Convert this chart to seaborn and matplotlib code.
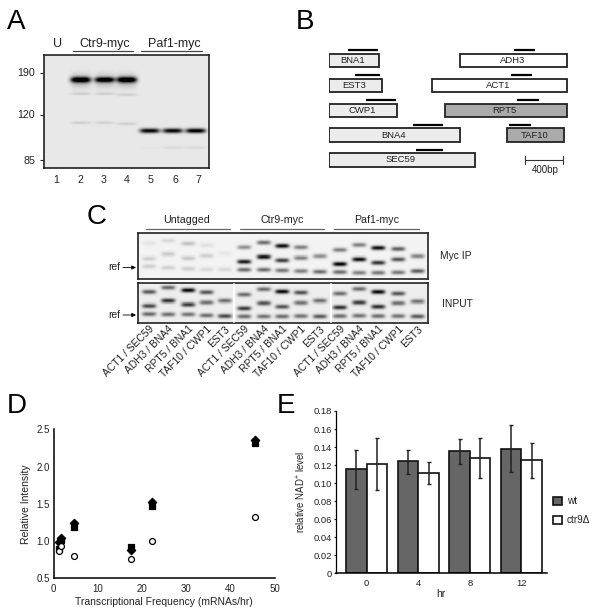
import numpy as np
import pandas as pd
import matplotlib
matplotlib.use("Agg")
import matplotlib.pyplot as plt
import seaborn as sns

W, H = 600, 610

# panel A gel, positions in px inside the gel frame
a_lanes = [37, 61, 83, 106, 129, 152]
a_main_pos = [25, 25, 25, 76, 76, 76]
a_main_int = [1.0, 0.95, 1.0, 0.9, 0.9, 0.95]
a_main_sigma = [2.8, 2.6, 2.8, 2.4, 2.4, 2.4]
a_halo_int = [0.2, 0.18, 0.2, 0.0, 0.0, 0.0]
a_faint_pos = [39, 39, 40, 93, 93, 93]
a_faint_int = [0.1, 0.1, 0.1, 0.015, 0.06, 0.06]
a_faint2_pos = [68, 68, 69]
a_faint2_int = [0.1, 0.09, 0.1]
a_marker_kda = [190, 120, 85]
a_marker_pos = [18, 60, 105]
a_lane_numbers = [1, 2, 3, 4, 5, 6, 7]
a_number_x = [56, 80, 104, 127, 151, 175, 198]

# panel B, gene extents and probes in bp
genes = ["BNA1", "EST3", "CWP1", "BNA4", "SEC59", "ADH3", "ACT1", "RPT5", "TAF10"]
gene_row = [0, 1, 2, 3, 4, 0, 1, 2, 3]
gene_start = [0, 0, 0, 0, 0, 1362, 1072, 1200, 1845]
gene_end = [521, 555, 703, 1355, 1517, 2462, 2462, 2462, 2431]
probe_start = [197, 272, 390, 872, 903, 1914, 1883, 1945, 1862]
probe_end = [507, 528, 697, 1179, 1179, 2134, 2103, 2172, 2096]
gene_fill = ["#ececec"] * 5 + ["white", "white", "#aaaaaa", "#aaaaaa"]

# panel C gels, bands per lane in 1/3 px
c_lanes = [33, 90, 150, 205, 260, 318, 377, 432, 488, 545, 605, 663, 720, 780, 838]
c_labels = ["ACT1 / SEC59", "ADH3 / BNA4", "RPT5 / BNA1", "TAF10 / CWP1", "EST3"] * 3
ip_pos = [[30, 75, 98], [22, 62, 102], [31, 74, 105], [36, 67, 107], [60, 107],
          [42, 84, 108], [28, 70, 108], [38, 80, 110], [42, 73, 112], [68, 114],
          [50, 91, 115], [35, 77, 117], [44, 87, 117], [47, 77, 116], [68, 112]]
ip_int = [[.06, .14, .14], [.1, .16, .14], [.2, .17, .15], [.08, .14, .1], [.05, .1],
          [.38, .85, .52], [.52, .9, .52], [.9, .7, .48], [.45, .45, .45], [.38, .52],
          [.45, .95, .52], [.45, .9, .45], [.9, .75, .48], [.58, .62, .48], [.42, .58]]
input_pos = [[26, 67, 91], [13, 52, 92], [21, 63, 92], [27, 57, 95], [52, 97],
             [34, 74, 98], [18, 59, 98], [25, 69, 98], [28, 58, 97], [52, 98],
             [31, 71, 97], [17, 57, 96], [26, 69, 97], [31, 59, 97], [54, 98]]
input_int = [[.58, .65, .52], [.52, .75, .5], [.9, .7, .48], [.6, .5, .5], [.5, .65],
             [.5, .7, .5], [.5, .6, .48], [.9, .6, .5], [.62, .48, .48], [.5, .58],
             [.5, .75, .5], [.5, .7, .48], [.9, .75, .5], [.6, .5, .48], [.48, .58]]

# panel D
freq = [1.2, 1.6, 4.7, 17.6, 22.3, 45.6]
intensity_input = [0.86, 0.94, 0.80, 0.76, 1.00, 1.32]
intensity_paf1 = [0.90, 1.02, 1.19, 0.92, 1.47, 2.32]
intensity_ctr9 = [0.99, 1.04, 1.24, 0.88, 1.53, 2.35]

# panel E
hours = ["0", "4", "8", "12"]
wt_level = [0.1155, 0.1245, 0.1355, 0.138]
ctr9_level = [0.1215, 0.111, 0.128, 0.1255]
wt_low = [0.094, 0.110, 0.121, 0.112]
wt_high = [0.137, 0.137, 0.149, 0.164]
ctr9_low = [0.092, 0.0995, 0.106, 0.106]
ctr9_high = [0.150, 0.123, 0.150, 0.145]

sns.set_theme(style="white")
plt.rcParams['font.family'] = ['Liberation Sans', 'DejaVu Sans']
plt.rcParams['mathtext.default'] = 'regular'
plt.rcParams['text.color'] = '#222222'
plt.rcParams['xtick.color'] = '#222222'
plt.rcParams['ytick.color'] = '#222222'
plt.rcParams['axes.labelcolor'] = '#222222'

fig = plt.figure(figsize=(W / 100, H / 100), dpi=100, facecolor='white')


def px_axes(left, top, right, bottom, **kw):
    return fig.add_axes([left / W, 1 - bottom / H, (right - left) / W, (bottom - top) / H], **kw)


def draw_gel(ax, width, height, bands, bg, half_w, res=2):
    # bands are (x, y, strength, sigma) in px from the top left of the frame
    xs = (np.arange(int(width * res)) + 0.5) / res
    ys = (np.arange(int(height * res)) + 0.5) / res
    img = np.full((len(ys), len(xs)), bg, dtype=float)
    for x, y, strength, sigma in bands:
        across = np.exp(-np.abs((xs - x) / half_w) ** 4)
        down = np.exp(-((ys - y) / sigma) ** 2)
        img -= strength * np.outer(down, across)
    sns.heatmap(np.clip(img, 0, 1), ax=ax, cmap='gray', vmin=0, vmax=1, cbar=False,
                xticklabels=False, yticklabels=False, rasterized=True)
    for s in ax.spines.values():
        s.set_visible(True)
        s.set_color('#222222')
        s.set_linewidth(1.2)
    return res


# overlay for letters, headers and arrows, in image px
ov = px_axes(0, 0, W, H, zorder=10)
ov.set_xlim(0, W)
ov.set_ylim(H, 0)
ov.axis('off')
ov.patch.set_alpha(0)

for letter, x, y in [("A", 7, 29), ("B", 296, 29), ("C", 87, 224), ("D", 7, 413), ("E", 277, 413)]:
    ov.text(x, y, letter, fontsize=20, color='black', ha='left', va='baseline')

# --- A ---
ax_a = px_axes(43.5, 54.5, 209, 168)
a_bands = []
for i, x in enumerate(a_lanes):
    a_bands.append((x, a_main_pos[i], a_main_int[i], a_main_sigma[i]))
    a_bands.append((x, a_main_pos[i] + 1, a_halo_int[i], 7))
    a_bands.append((x, a_faint_pos[i], a_faint_int[i], 1.5))
for i, p in enumerate(a_faint2_pos):
    a_bands.append((a_lanes[i], p, a_faint2_int[i], 1.6))
res = draw_gel(ax_a, 165.5, 113.5, a_bands, 0.91, 10)
ax_a.set_yticks([p * res for p in a_marker_pos])
ax_a.set_yticklabels([str(k) for k in a_marker_kda], fontsize=7.7)
ax_a.tick_params(axis='y', left=True, length=3, width=0.8, pad=3)
for n, x in zip(a_lane_numbers, a_number_x):
    ov.text(x, 180, str(n), fontsize=7.7, ha='center', va='center')
ov.text(58, 44, "U", fontsize=9, ha='center', va='center')
ov.text(105, 44, "Ctr9-myc", fontsize=9, ha='center', va='center')
ov.text(174, 44, "Paf1-myc", fontsize=9, ha='center', va='center')
ov.plot([73, 133], [51, 51], color='#444444', lw=0.9)
ov.plot([141, 202], [51, 51], color='#444444', lw=0.9)

# --- B ---
ax_b = px_axes(328.7, 40, 568.7, 185)
ax_b.set_xlim(0, 2483)
ax_b.set_ylim(5.01, -0.835)
ax_b.axis('off')
ax_b.barh(gene_row, np.subtract(gene_end, gene_start), left=gene_start, height=0.54,
          color=gene_fill, edgecolor='#222222', linewidth=1.3)
for g, r, s, e, ps, pe in zip(genes, gene_row, gene_start, gene_end, probe_start, probe_end):
    ax_b.text((s + e) / 2 - 10, r, g, fontsize=6.8, ha='center', va='center')
    ax_b.plot([ps, pe], [r - 0.42, r - 0.42], color='black', lw=1.6, solid_capstyle='butt')
ax_b.plot([2028, 2428], [4, 4], color='#333333', lw=0.8)
ax_b.plot([2028, 2028], [3.84, 4.16], color='#333333', lw=0.8)
ax_b.plot([2428, 2428], [3.84, 4.16], color='#333333', lw=0.8)
ax_b.text(2240, 4.41, "400bp", fontsize=7, ha='center', va='center')

# --- C ---
ax_ip = px_axes(138.3, 233.3, 428.3, 278.7)
ax_in = px_axes(138.3, 283.3, 428.3, 322.7)
ip_bands = []
in_bands = []
for i, x in enumerate(c_lanes):
    ip_bands += [(x / 3, p / 3, s, 2.2) for p, s in zip(ip_pos[i], ip_int[i])]
    in_bands += [(x / 3, p / 3, s, 2.2) for p, s in zip(input_pos[i], input_int[i])]
draw_gel(ax_ip, 290, 45.4, ip_bands, 0.95, 7)
draw_gel(ax_in, 290, 39.4, in_bands, 0.93, 7)
ax_in.set_xticks([x / 3 * res for x in c_lanes])
ax_in.set_xticklabels(c_labels, rotation=45, ha='right', rotation_mode='anchor', fontsize=7.4)
ax_in.tick_params(axis='x', bottom=False, length=0, pad=1)
# white seams between the blots of the input gel
for x in [234, 331]:
    ov.plot([x, x], [284, 322], color='white', lw=1.3)

for label, cx, x0, x1 in [("Untagged", 187, 145.7, 230), ("Ctr9-myc", 281.7, 239.7, 324.3),
                          ("Paf1-myc", 376.7, 334, 419)]:
    ov.text(cx, 220, label, fontsize=7.7, ha='center', va='center')
    ov.plot([x0, x1], [228.7, 228.7], color='#666666', lw=0.9)
ov.text(456, 256, "Myc IP", fontsize=7.4, ha='center', va='center')
ov.text(457, 304, "INPUT", fontsize=7.4, ha='center', va='center')
for y in [267.5, 315]:
    ov.text(114.5, y, "ref", fontsize=7.4, ha='center', va='center')
    ov.annotate("", xy=(136, y), xytext=(123, y),
                arrowprops=dict(arrowstyle='-|>,head_width=0.1,head_length=0.2', color='black', lw=0.6,
                                shrinkA=0, shrinkB=0))

# --- D ---
ax_d = px_axes(53.7, 429.3, 274.5, 578.3)
df_d = pd.DataFrame({'freq': freq * 3,
                     'intensity': intensity_ctr9 + intensity_paf1 + intensity_input,
                     'series': ['ctr9'] * 6 + ['paf1'] * 6 + ['input'] * 6})
for name, mark, face, size in [('ctr9', 'D', 'black', 18), ('paf1', 's', 'black', 24), ('input', 'o', 'white', 18)]:
    sns.scatterplot(data=df_d[df_d['series'] == name], x='freq', y='intensity', marker=mark, s=size,
                    color=face, edgecolor='black', linewidth=0.9, ax=ax_d, legend=False, zorder=3, clip_on=False)
ax_d.set_xlim(0, 50)
ax_d.set_ylim(0.5, 2.5)
ax_d.set_xticks([0, 10, 20, 30, 40, 50])
ax_d.set_yticks([0.5, 1.0, 1.5, 2.0, 2.5])
ax_d.set_yticklabels(["0.5", "1.0", "1.5", "2.0", "2.5"])
ax_d.tick_params(labelsize=7, length=0, pad=3)
ax_d.tick_params(axis='x', pad=4)
sns.despine(ax=ax_d)
for s in ['left', 'bottom']:
    ax_d.spines[s].set_linewidth(1.1)
    ax_d.spines[s].set_color('black')
ax_d.set_xlabel("Transcriptional Frequency (mRNAs/hr)", fontsize=7.5, labelpad=2)
ax_d.set_ylabel("Relative Intensity", fontsize=7.5, labelpad=4)

# --- E ---
ax_e = px_axes(335.7, 411, 546.7, 573.3)
df_e = pd.DataFrame({'hr': hours * 2, 'level': wt_level + ctr9_level,
                     'strain': ['wt'] * 4 + ['ctr9Δ'] * 4})
sns.barplot(data=df_e, x='hr', y='level', hue='strain', palette={'wt': '#666666', 'ctr9Δ': 'white'},
            order=hours, hue_order=['wt', 'ctr9Δ'], errorbar=None, width=0.8, gap=0,
            edgecolor='#111111', linewidth=1.2, ax=ax_e)
pos = np.arange(len(hours))
for offset, level, low, high in [(-0.2, wt_level, wt_low, wt_high), (0.2, ctr9_level, ctr9_low, ctr9_high)]:
    yerr = [np.subtract(level, low), np.subtract(high, level)]
    ax_e.errorbar(pos + offset, level, yerr=yerr, fmt='none', ecolor='#222222', elinewidth=1.1,
                  capsize=1.2, capthick=1, zorder=4)
ax_e.set_xlim(-0.6, 3.49)
ax_e.set_ylim(0, 0.18)
ax_e.set_yticks(np.arange(0, 0.181, 0.02))
ax_e.set_yticklabels(["0"] + [f"{v:.2f}" for v in np.arange(0.02, 0.181, 0.02)])
ax_e.tick_params(labelsize=6.8)
ax_e.tick_params(axis='y', left=True, length=1.5, width=0.8, pad=1)
ax_e.tick_params(axis='x', bottom=False, length=0, pad=4)
sns.despine(ax=ax_e)
ax_e.spines['left'].set_color('black')
ax_e.spines['left'].set_linewidth(0.9)
ax_e.spines['bottom'].set_color('black')
ax_e.spines['bottom'].set_linewidth(1.1)
ax_e.set_xlabel("hr", fontsize=7.5, labelpad=1)
ax_e.set_ylabel("relative NAD$^{+}$ level", fontsize=6.9, labelpad=4)
handles, labels = ax_e.get_legend_handles_labels()
ax_e.legend(handles, labels, loc='center left', bbox_to_anchor=(1.03, 0.385), frameon=False, fontsize=7.2,
            handlelength=0.9, handleheight=0.9, handletextpad=0.5, labelspacing=0.9, borderpad=0, borderaxespad=0)

fig.savefig("out.png", dpi=100)
